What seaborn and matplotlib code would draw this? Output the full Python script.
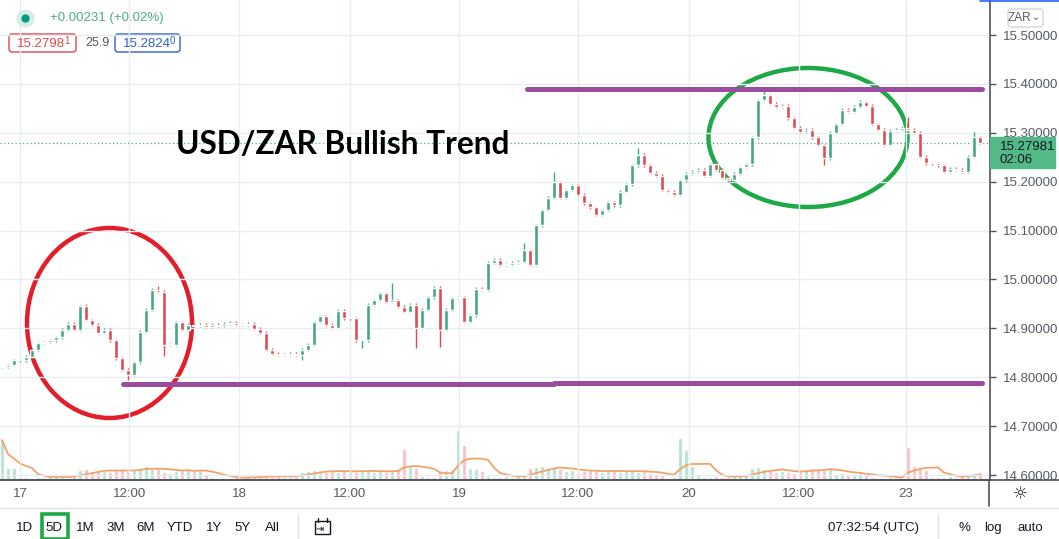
import numpy as np
import pandas as pd
import matplotlib
matplotlib.use('Agg')
import matplotlib.pyplot as plt
import seaborn as sns
from matplotlib.patches import Ellipse, Rectangle, FancyBboxPatch
from matplotlib.lines import Line2D
from matplotlib.transforms import Affine2D

# ========== DATA ==========
closes = [
    14.821, 14.825, 14.835, 14.835, 14.842, 14.856, 14.870, 14.872, 14.876, 14.882,
    14.897, 14.909, 14.897, 14.946, 14.917, 14.907, 14.891, 14.897, 14.876, 14.839,
    14.815, 14.805, 14.831, 14.893, 14.938, 14.979, 14.975, 14.866, 14.866, 14.913,
    14.897, 14.907, 14.905, 14.907, 14.903, 14.907, 14.905, 14.909, 14.911, 14.907,
    14.907, 14.909, 14.899, 14.891, 14.856, 14.848, 14.846, 14.846, 14.848, 14.846,
    14.856, 14.866, 14.913, 14.925, 14.907, 14.901, 14.936, 14.921, 14.921, 14.876,
    14.876, 14.948, 14.958, 14.972, 14.954, 14.958, 14.944, 14.934, 14.948, 14.901,
    14.938, 14.964, 14.983, 14.897, 14.938, 14.962, 14.964, 14.913, 14.927, 14.981,
    14.979, 15.034, 15.040, 15.030, 15.030, 15.034, 15.036, 15.060, 15.030, 15.111,
    15.142, 15.167, 15.199, 15.167, 15.183, 15.193, 15.173, 15.156, 15.148, 15.132,
    15.142, 15.158, 15.152, 15.179, 15.195, 15.234, 15.255, 15.234, 15.218, 15.212,
    15.183, 15.179, 15.173, 15.203, 15.216, 15.220, 15.224, 15.212, 15.236, 15.224,
    15.208, 15.203, 15.216, 15.230, 15.236, 15.291, 15.367, 15.377, 15.359, 15.353,
    15.355, 15.330, 15.310, 15.302, 15.306, 15.291, 15.275, 15.248, 15.300, 15.318,
    15.347, 15.343, 15.353, 15.363, 15.355, 15.318, 15.306, 15.275, 15.304, 15.306,
    15.310, 15.306, 15.300, 15.251, 15.238, 15.238, 15.234, 15.220, 15.226, 15.224,
    15.220, 15.251, 15.291, 15.280,
]

volumes = [
    40, 12, 12, 3, 3, 2, 3, 3, 4, 3, 3, 2,
    6, 10, 11, 9, 10, 9, 8, 10, 11, 9, 10,
    12, 14, 11, 12, 8, 7, 9, 10, 12, 9, 10,
    6, 3, 2, 2, 2, 3, 2, 3, 4, 3, 5, 3, 4, 3, 3,
    6, 8, 9, 10, 9, 8, 9, 8, 10, 9, 8,
    9, 10, 8, 9, 8, 9, 10, 31, 14, 12,
    4, 3, 3, 9, 10, 11, 50, 35, 12, 11, 9,
    4, 3, 3, 4, 3, 4, 5, 12, 13, 14, 12, 13, 11,
    9, 10, 8, 9, 10, 9, 8, 9, 10, 8, 9, 9, 8, 9,
    7, 6, 5, 2, 3, 42, 30, 14, 5,
    3, 3, 4, 3, 3, 4, 4, 5, 12, 13, 11, 10,
    8, 9, 8, 7, 9, 11, 12, 11, 10, 12,
    6, 7, 5, 6, 7, 6, 3, 2, 2, 3, 2, 2,
    33, 14, 12, 10, 3, 3, 3, 4, 3, 4, 6, 7, 8,
]

# wick extremes that stick out of the bodies
wick_highs = {13: 14.948, 26: 14.987, 65: 14.993, 87: 15.075, 92: 15.220,
              106: 15.269, 127: 15.388, 143: 15.367, 151: 15.332, 162: 15.302}
wick_lows = {21: 14.794, 27: 14.844, 50: 14.835, 60: 14.860, 69: 14.860,
             73: 14.862, 137: 15.234}

time_labels = ['17', '12:00', '18', '12:00', '19', '12:00', '20', '12:00', '23']
time_ticks = [3.0, 21.2, 39.5, 58.0, 76.2, 96.0, 114.5, 132.8, 150.7]
price_ticks = [14.6, 14.7, 14.8, 14.9, 15.0, 15.1, 15.2, 15.3, 15.4, 15.5]

last_price = 15.27981
resistance = 15.389
support_left = 14.786
support_right = 14.788

# ========== STYLE ==========
sns.set_theme(style='white')
plt.rcParams['font.family'] = ['Liberation Sans', 'DejaVu Sans']

UP, DOWN = '#45a87f', '#e24a52'
VOL_UP, VOL_DOWN = '#a9dcc6', '#f6b5ba'
GRID = '#e8edf2'
AXIS = '#50535e'
PURPLE = '#9a4c9e'
WICK = 0.003      # small default wick beyond the body
MIN_BODY = 0.002  # keep flat candles visible

# ========== BUILD OHLC ==========
bars = np.arange(len(closes))
df = pd.DataFrame({'bar': bars, 'close': closes, 'volume': volumes})
df['open'] = df['close'].shift(1).fillna(df['close'].iloc[0])
df['high'] = df[['open', 'close']].max(axis=1) + WICK
df['low'] = df[['open', 'close']].min(axis=1) - WICK
for k, v in wick_highs.items():
    df.loc[k, 'high'] = v
for k, v in wick_lows.items():
    df.loc[k, 'low'] = v
df['up'] = df['close'] >= df['open']
df['vol_ma'] = df['volume'].rolling(6, min_periods=1).mean()

# ========== FIGURE ==========
W, H = 1059, 539
fig = plt.figure(figsize=(W / 100, H / 100), dpi=100)
fig.patch.set_facecolor('white')
PX = Affine2D().scale(1, -1).translate(0, H)  # image pixel coords (y down)

ax = fig.add_axes([0, 59 / H, 990 / W, 480 / H])
ax_v = ax.twinx()

# volume pane (bottom of the price pane)
ax_v.bar(df['bar'], df['volume'], width=0.6,
         color=np.where(df['up'], VOL_UP, VOL_DOWN), alpha=0.85, zorder=1)
sns.lineplot(x=df['bar'], y=df['vol_ma'], ax=ax_v, color='#f2a26a', lw=1.3)
ax_v.set_ylim(0, 480)
ax_v.set_yticks([])
ax_v.set_ylabel('')
for s in ax_v.spines.values():
    s.set_visible(False)

# candles
colors = np.where(df['up'], UP, DOWN)
ax.vlines(df['bar'], df['low'], df['high'], colors=colors, lw=1.0, zorder=3)
raw = df['close'] - df['open']
body = raw.where(raw.abs() > MIN_BODY, MIN_BODY)
ax.bar(df['bar'], body, bottom=df['open'], width=0.7, color=colors, zorder=3)

# last price dotted line
ax.axhline(last_price, color='#4caf82', ls=(0, (1, 2)), lw=0.9, zorder=2)

# purple support / resistance
ax.hlines(resistance, 87.5, 163.3, color=PURPLE, lw=3.6, capstyle='round', zorder=5)
ax.hlines(support_left, 20.2, 92.0, color=PURPLE, lw=3.6, capstyle='round', zorder=5)
ax.hlines(support_right, 92.0, 163.3, color=PURPLE, lw=3.6, capstyle='round', zorder=5)

ax.set_xlim(-0.33, 164.67)
ax.set_ylim(14.5898, 15.5716)
ax.yaxis.tick_right()
ax.set_yticks(price_ticks)
ax.set_yticklabels([f'{p:.5f}' for p in price_ticks])
ax.set_xticks(time_ticks)
ax.set_xticklabels(time_labels)
ax.tick_params(axis='y', labelsize=9.5, labelcolor='#555a63', colors=AXIS,
               length=4, width=1, pad=5, direction='out')
ax.tick_params(axis='x', labelsize=9.5, labelcolor='#555a63', colors=AXIS,
               length=4, width=1, pad=2, direction='out')
ax.grid(True, color=GRID, lw=1)
ax.set_axisbelow(True)
for side in ['top', 'left']:
    ax.spines[side].set_visible(False)
for side in ['right', 'bottom']:
    ax.spines[side].set_color(AXIS)
    ax.spines[side].set_linewidth(1.2)
ax.set_zorder(ax_v.get_zorder() + 1)
ax.patch.set_visible(False)

# ========== ANNOTATIONS ==========
fig.add_artist(Ellipse((109.5, 323), 165, 190, fill=False, ec='#e31e2a', lw=3.2, transform=PX))
fig.add_artist(Ellipse((808, 137.5), 199, 139, fill=False, ec='#1fa846', lw=3.2, transform=PX))
fig.text(176, 145, 'USD/ZAR Bullish Trend', transform=PX, fontsize=22.8, fontweight='bold',
         family=['Lato', 'DejaVu Sans'], color='black', va='center', ha='left')

# ========== UI CHROME ==========
def line(x0, y0, x1, y1, color, lw=1.0):
    fig.add_artist(Line2D([x0, x1], [y0, y1], transform=PX, color=color, lw=lw))

line(0, 480, W, 480, AXIS, 1.2)
line(989, 480, 989, 506, AXIS, 1.2)
line(0, 508, W, 508, '#e0e3eb', 1.0)
line(980, 0.5, W, 0.5, '#2962ff', 1.2)

# current price tag
fig.add_artist(Rectangle((990, 137), 65, 31, transform=PX, color='#53b987', zorder=4))
fig.text(1000, 147, '15.27981', transform=PX, fontsize=9.5, color='#131722', va='center', zorder=5)
fig.text(1000, 160, '02:06', transform=PX, fontsize=9.5, color='#131722', va='center', zorder=5)

# ZAR button
fig.add_artist(FancyBboxPatch((1008, 9), 35, 18, boxstyle='round,pad=0,rounding_size=3',
                              transform=PX, fc='white', ec='#d1d4dc', lw=1))
fig.text(1019, 18, 'ZAR', transform=PX, fontsize=8.5, color='#555a63', ha='center', va='center')
fig.text(1036, 17, '⌄', transform=PX, fontsize=7, color='#555a63', ha='center', va='center',
         family=['DejaVu Sans'])

# header legend
fig.add_artist(Line2D([25], [18], transform=PX, marker='o', ms=13, color='#d7eee8', mec='none'))
fig.add_artist(Line2D([25], [18], transform=PX, marker='o', ms=6, color='#089981', mec='none'))
fig.text(50, 18, '+0.00231 (+0.02%)', transform=PX, fontsize=9.5, color='#4caf82', va='center')

for x0, w, txt, tail, col in [(9, 67, '15.2798', '1', '#e0474c'), (115, 65, '15.2824', '0', '#2f5fd0')]:
    fig.add_artist(FancyBboxPatch((x0, 34), w, 18, boxstyle='round,pad=0,rounding_size=3',
                                  transform=PX, fc='white', ec=col, lw=1))
    fig.text(x0 + 8, 44, txt, transform=PX, fontsize=9.5, color=col, va='center')
    fig.text(x0 + 55, 41, tail, transform=PX, fontsize=7, color=col, va='center')
fig.text(85, 43, '25.9', transform=PX, fontsize=9, color='#555a63', va='center')

# bottom toolbar
for x, s in zip([25, 54, 85, 116, 146, 180, 214, 242, 272],
                ['1D', '5D', '1M', '3M', '6M', 'YTD', '1Y', '5Y', 'All']):
    fig.text(x, 528, s, transform=PX, fontsize=9.5, color='#131722', ha='center', va='center')
fig.add_artist(Rectangle((42, 514), 26, 25, transform=PX, fill=False, ec='#1fa846', lw=2.6))
line(298, 514, 298, 539, '#e0e3eb', 1.0)
fig.add_artist(Rectangle((315, 521), 15, 13, transform=PX, fill=False, ec='#131722', lw=1))
line(318, 518, 318, 522, '#131722', 1.0)
line(327, 518, 327, 522, '#131722', 1.0)
fig.text(320, 529, '⇥', transform=PX, fontsize=7, color='#131722', ha='center', va='center',
         family=['DejaVu Sans'])

fig.text(873, 528, '07:32:54 (UTC)', transform=PX, fontsize=9.5, color='#131722', ha='center', va='center')
line(938, 514, 938, 539, '#e0e3eb', 1.0)
fig.text(964, 528, '%', transform=PX, fontsize=9.5, color='#131722', ha='center', va='center')
fig.text(993, 528, 'log', transform=PX, fontsize=9.5, color='#131722', ha='center', va='center')
fig.text(1030, 528, 'auto', transform=PX, fontsize=9.5, color='#131722', ha='center', va='center')
fig.text(1020, 494, '☼', transform=PX, fontsize=12, color='#131722', ha='center', va='center',
         family=['DejaVu Sans'])

fig.savefig('out.png', dpi=100)
